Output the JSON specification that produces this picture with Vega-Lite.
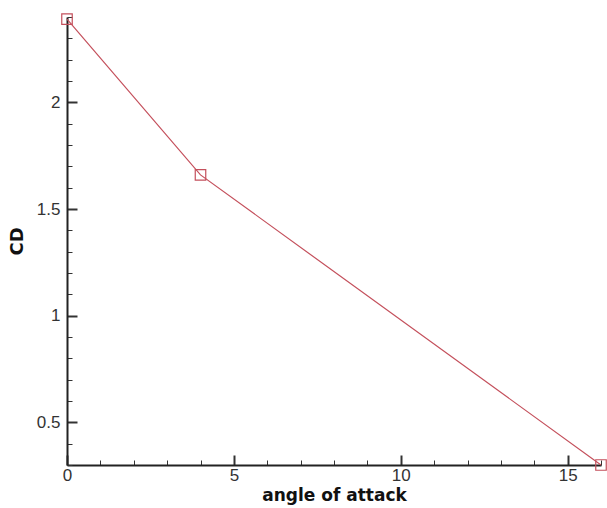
{
  "$schema": "https://vega.github.io/schema/vega-lite/v6.json",
  "width": 534,
  "height": 448,
  "autosize": {"type": "none"},
  "padding": {"left": 67, "top": 17, "right": 6, "bottom": 43},
  "background": "white",
  "config": {"view": {"stroke": null}},
  "data": {"values": [
    {"angle": 0, "CD": 2.39},
    {"angle": 4, "CD": 1.66},
    {"angle": 16, "CD": 0.3}
  ]},
  "mark": {"type": "line", "color": "#c4505c", "strokeWidth": 1.2, "point": {"shape": "square", "filled": false, "size": 110, "stroke": "#c4505c", "strokeWidth": 1.2}},
  "encoding": {
    "x": {
      "field": "angle", "type": "quantitative",
      "scale": {"domain": [0, 16], "nice": false, "zero": false},
      "axis": {
        "title": "angle of attack",
        "values": [0,1,2,3,4,5,6,7,8,9,10,11,12,13,14,15,16],
        "format": "~g",
        "labelExpr": "datum.value % 5 === 0 ? datum.label : ''",
        "grid": false,
        "domainColor": "#222", "domainWidth": 2,
        "tickColor": "#333",
        "tickSize": {"condition": {"test": "datum.value % 5 === 0", "value": -10}, "value": -5},
        "tickWidth": {"condition": {"test": "datum.value % 5 === 0", "value": 2}, "value": 1},
        "labelPadding": 12,
        "labelFont": "Liberation Sans", "labelFontSize": 17, "labelColor": "#333",
        "labelFlush": false,
        "titleFont": "DejaVu Sans", "titleFontSize": 17, "titleFontWeight": "bold", "titleColor": "#111",
        "titlePadding": 4
      }
    },
    "y": {
      "field": "CD", "type": "quantitative",
      "scale": {"domain": [0.3, 2.4], "nice": false, "zero": false},
      "axis": {
        "title": "CD",
        "values": [0.3,0.4,0.5,0.6,0.7,0.8,0.9,1,1.1,1.2,1.3,1.4,1.5,1.6,1.7,1.8,1.9,2,2.1,2.2,2.3,2.4],
        "format": "~g",
        "labelExpr": "abs(datum.value*2 - round(datum.value*2)) < 0.000001 ? datum.label : ''",
        "grid": false,
        "domainColor": "#222", "domainWidth": 2,
        "tickColor": "#333",
        "tickSize": {"condition": {"test": "abs(datum.value*2 - round(datum.value*2)) < 0.000001", "value": -10}, "value": -5},
        "tickWidth": {"condition": {"test": "abs(datum.value*2 - round(datum.value*2)) < 0.000001", "value": 2}, "value": 1},
        "labelPadding": 17,
        "labelFont": "Liberation Sans", "labelFontSize": 17, "labelColor": "#333",
        "labelFlush": false,
        "titleFont": "DejaVu Sans", "titleFontSize": 18, "titleFontWeight": "bold", "titleColor": "#111",
        "titlePadding": 10
      }
    }
  }
}
